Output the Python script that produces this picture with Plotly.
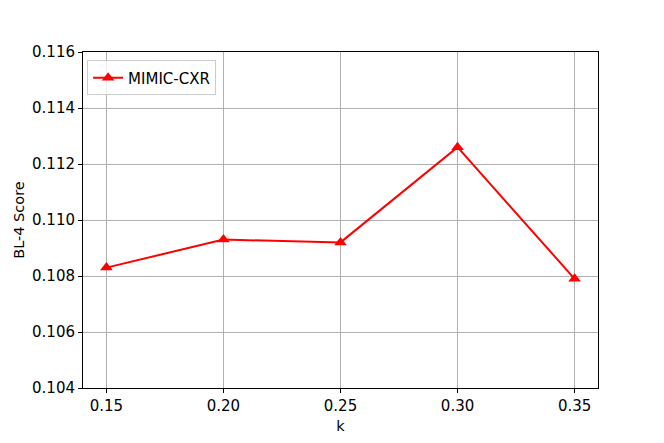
import plotly.graph_objects as go

k_values = [0.15, 0.20, 0.25, 0.30, 0.35]
bl4_scores = [0.1083, 0.1093, 0.1092, 0.1126, 0.1079]
x_ticks = [0.15, 0.20, 0.25, 0.30, 0.35]
x_tick_labels = ['0.15', '0.20', '0.25', '0.30', '0.35']
y_ticks = [0.104, 0.106, 0.108, 0.110, 0.112, 0.114, 0.116]
y_tick_labels = ['0.104', '0.106', '0.108', '0.110', '0.112', '0.114', '0.116']

fig = go.Figure()
fig.add_trace(go.Scatter(
    x=k_values, y=bl4_scores,
    mode='lines+markers', name='MIMIC-CXR',
    line=dict(color='red', width=2),
    marker=dict(symbol='triangle-up', size=11, color='red')
))

axis_style = dict(
    showline=True, linecolor='black', linewidth=1, mirror=True,
    showgrid=True, gridcolor='#b0b0b0', gridwidth=1,
    ticks='outside', ticklen=4, tickcolor='black',
    zeroline=False, tickfont=dict(size=15, color='black'),
)

# page body has an 8px margin, so margins are shifted to compensate
fig.update_layout(
    width=664, height=443,
    margin=dict(l=75, r=74, t=44, b=63),
    plot_bgcolor='white', paper_bgcolor='white',
    font=dict(family='DejaVu Sans', size=14, color='black'),
    showlegend=True,
    legend=dict(
        x=0.008, y=0.975, xanchor='left', yanchor='top',
        bgcolor='rgba(255,255,255,0.8)', bordercolor='#cccccc', borderwidth=1,
        font=dict(size=15), tracegroupgap=0
    ),
    xaxis=dict(
        range=[0.14, 0.36], tickvals=x_ticks, ticktext=x_tick_labels,
        title=dict(text='k', standoff=6, font=dict(size=14.5, color='black')), **axis_style
    ),
    yaxis=dict(
        range=[0.104, 0.116], tickvals=y_ticks, ticktext=y_tick_labels,
        title=dict(text='BL-4 Score', standoff=3, font=dict(size=14.5, color='black')), **axis_style
    ),
)

fig.write_html("out.html")
